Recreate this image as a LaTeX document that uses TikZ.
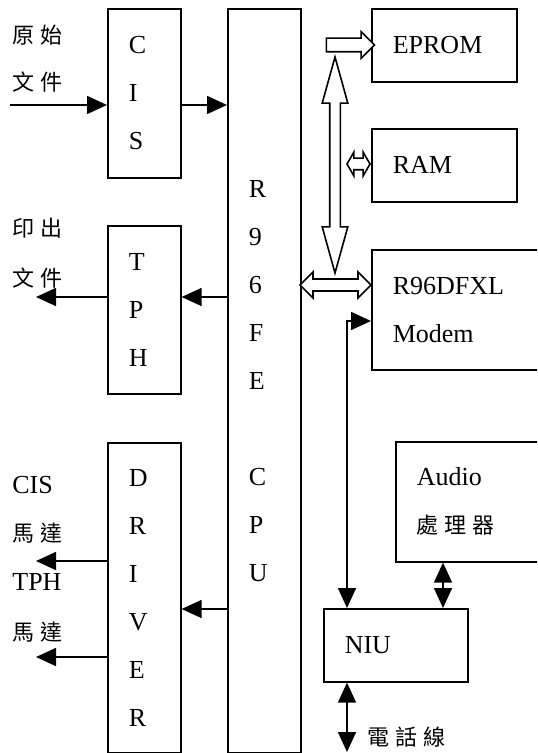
\documentclass[tikz,border=0pt]{standalone}
\usepackage{fontspec}
\setmainfont{Liberation Serif}
\newfontfamily\cjk{Noto Sans CJK TC}
\usetikzlibrary{arrows.meta,shapes.arrows}
\newcommand{\gap}{\hspace{3pt}}
\newcommand{\zh}[1]{{\cjk\fontsize{11}{24}\selectfont #1}}

\begin{document}
\begin{tikzpicture}[x=0.5pt,y=-0.5pt,
  font=\fontsize{13}{24}\selectfont,
  blk/.style={draw,line width=0.8pt,align=left,anchor=north west,inner xsep=10.5pt,inner ysep=0pt},
  txt/.style={anchor=west,inner sep=0pt},
  zhtxt/.style={txt,font=\cjk\fontsize{11}{12}\selectfont},
  sig/.style={line width=0.8pt,-{Triangle[length=10pt,width=9pt]}},
  dsig/.style={line width=0.8pt,{Triangle[length=10pt,width=9pt]}-{Triangle[length=10pt,width=9pt]}},
  bus/.style={draw,line width=0.8pt,fill=white}]
\useasboundingbox (0,0) rectangle (537,753);
\clip (0,0) rectangle (537,753);
% blocks
\node[blk,text width=15.5pt,minimum height=84.5pt] (cis) at (107,8) {C\\I\\S};
\node[blk,text width=15.5pt,minimum height=84pt] (tph) at (107,225) {T\\P\\H};
\node[blk,text width=15.5pt,minimum height=155pt] (drv) at (107,442) {D\\R\\I\\V\\E\\R};
\node[blk,text width=15.5pt,minimum height=372pt] (cpu) at (227,8) {R\\9\\6\\F\\E\\[24pt]C\\P\\U};
\node[blk,text width=51.5pt,minimum height=36.5pt] (eprom) at (371,8) {EPROM};
\node[blk,text width=51.5pt,minimum height=36.5pt] (ram) at (371,128) {RAM};
\node[blk,text width=79pt,minimum height=60pt] (modem) at (371,249) {R96DFXL\\Modem};
\node[blk,text width=69pt,minimum height=60pt] (audio) at (395,441) {Audio\\\zh{處\gap 理\gap 器}};
\node[blk,text width=51pt,minimum height=36.5pt] (niu) at (323,608) {NIU};
% labels
\node[zhtxt] (src1) at (12,35) {原\gap 始};
\node[zhtxt] (src2) at (12,82) {文\gap 件};
\node[zhtxt] (prt1) at (12,228) {印\gap 出};
\node[zhtxt] (prt2) at (12,278) {文\gap 件};
\node[txt] (mot1) at (12,485) {CIS};
\node[zhtxt] (mot1b) at (12,533) {馬\gap 達};
\node[txt] (mot2) at (12,582) {TPH};
\node[zhtxt] (mot2b) at (12,632) {馬\gap 達};
\node[zhtxt] (tel) at (367,737) {電\gap 話\gap 線};
% signal lines
\coordinate (in) at (10,105);
\coordinate (o1) at (36,297);
\coordinate (o2) at (36,561);
\coordinate (o3) at (36,657);
\draw[sig] (in) -- (in -| cis.west);
\draw[sig] (in -| cis.east) -- (in -| cpu.west);
\draw[sig] (o1 -| cpu.west) -- (o1 -| tph.east);
\draw[sig] (o1 -| tph.west) -- (o1);
\draw[sig] (o2 -| drv.west) -- (o2);
\draw[sig] (o3 -| drv.west) -- (o3);
\draw[sig] (cpu.west |- 0,609) -- (drv.east |- 0,609);
\coordinate (mx) at (347,321);
\coordinate (line) at (347,752);
\coordinate (ax) at (443,0);
\draw[dsig] (niu.north -| mx) |- (modem.west |- mx);
\draw[dsig] (niu.south -| line) -- (line);
\draw[dsig] (audio.south -| ax) -- (niu.north -| ax);
% buses
\node[bus,single arrow,single arrow head extend=3.25pt,inner sep=3pt,minimum height=24pt] (b1) at (347,45) {};
\node[bus,double arrow,double arrow head extend=3.75pt,double arrow tip angle=31,inner sep=2.25pt,minimum height=108pt,rotate=90] (b2) at (335,165) {};
\node[bus,double arrow,double arrow head extend=3.5pt,double arrow tip angle=90,inner sep=2.6pt,minimum height=35.5pt] (b3) at (335.5,285) {};
\node[bus,double arrow,double arrow head extend=3pt,double arrow tip angle=120,inner sep=2.5pt,minimum height=11.5pt] (b4) at (358.5,164) {};
\end{tikzpicture}
\end{document}
